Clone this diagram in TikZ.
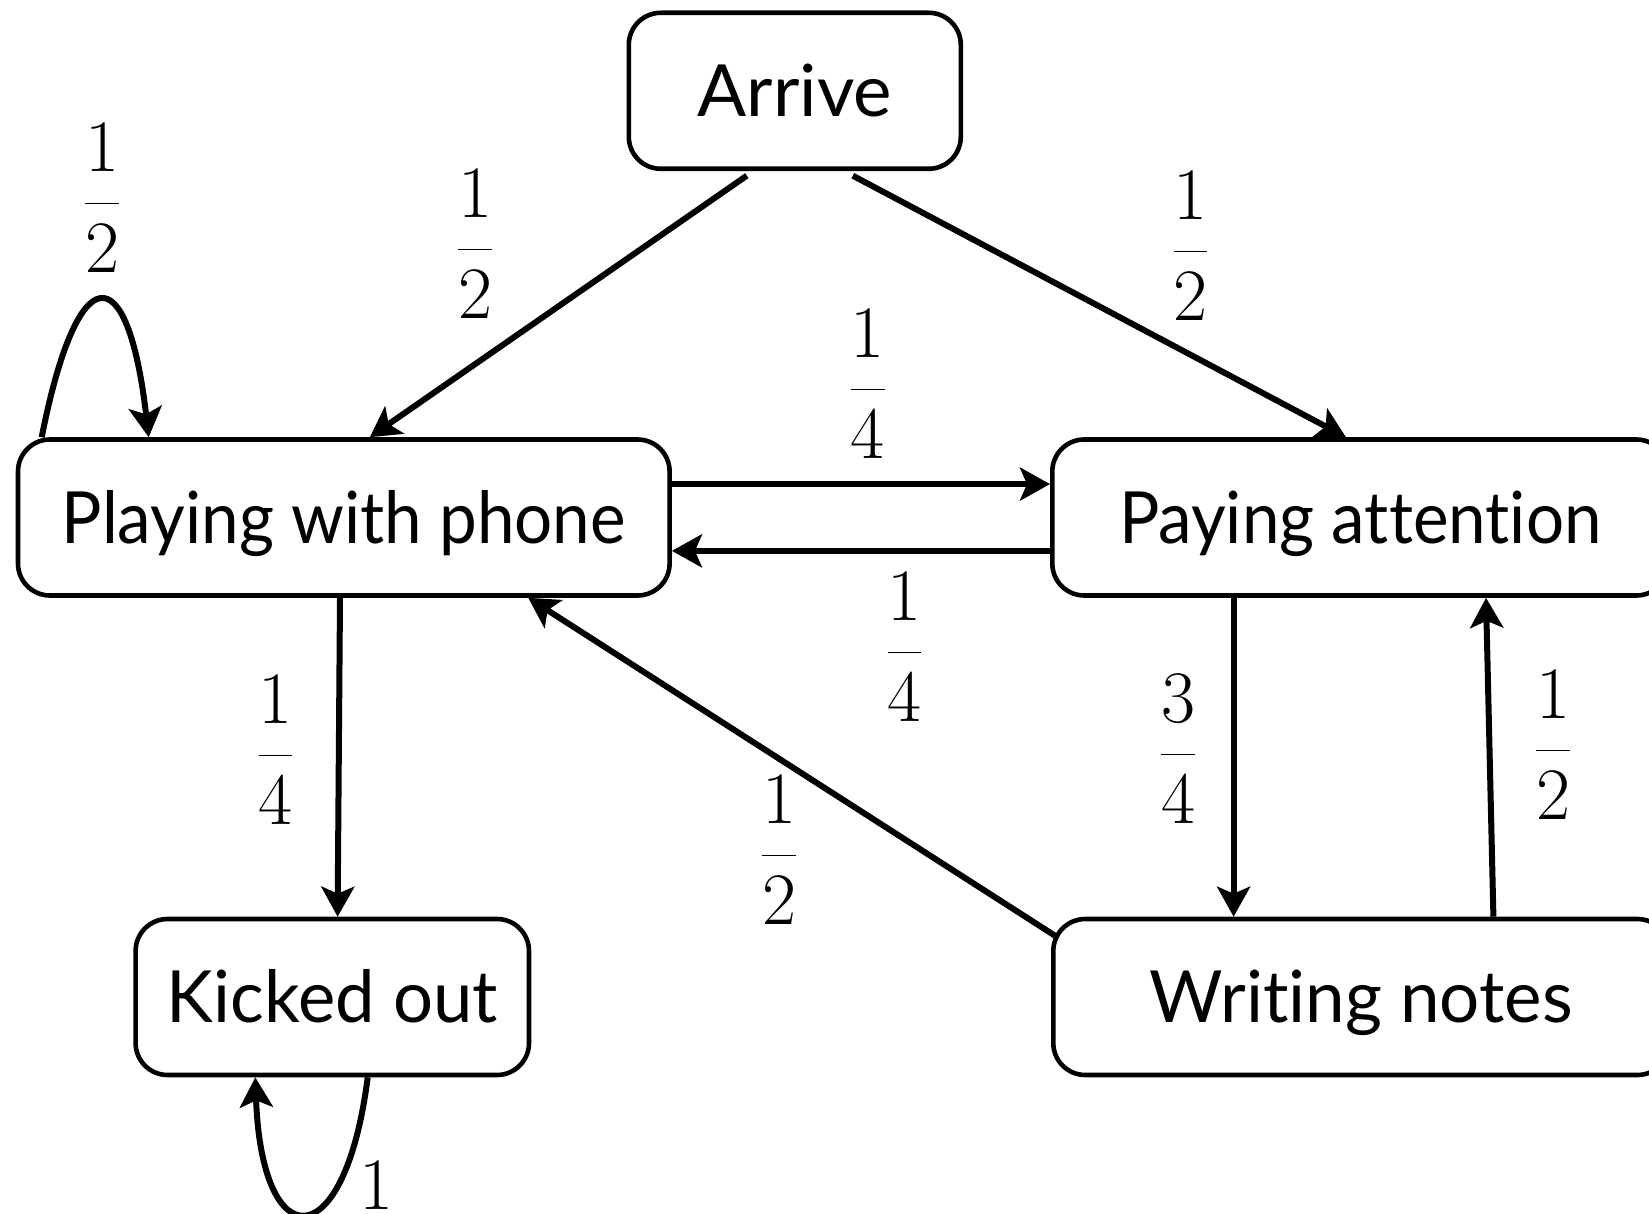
\RequirePackage{fix-cm}
\documentclass[tikz,border=0pt]{standalone}
\usepackage[no-math]{fontspec}
\setmainfont{Lato}[Ligatures=CommonOff]
\usetikzlibrary{arrows.meta,calc}

\begin{document}
\begin{tikzpicture}[x=0.5pt,y=-0.5pt,
  state/.style={draw, line width=2.3pt, rounded corners=16pt,
    minimum height=78pt, inner sep=0pt, text height=25.7pt, text depth=0pt,
    font=\fontsize{36}{43}\selectfont},
  arr/.style={line width=3pt, -{Stealth[length=15pt,width=16.5pt,inset=3.5pt]}},
  prob/.style={inner sep=0pt, font=\fontsize{37}{44}\selectfont}]
\useasboundingbox (0,0) rectangle (1649,1214);

% states
\node[state, minimum width=166pt] (arrive) at (794.8,90.8) {\scalebox{1.01}[1]{Arrive}};
\node[state, minimum width=325.8pt] (play) at (343.8,517.5) {\scalebox{0.935}[1]{Playing with phone}};
\node[state, minimum width=308pt, anchor=west] (pay) at (1050,517.5) {\scalebox{0.935}[1]{Paying attention}};
\node[state, minimum width=196.7pt] (kick) at (332.3,997) {\scalebox{0.98}[1]{Kicked out}};
\node[state, minimum width=308pt, anchor=west] (write) at (1051,997) {\scalebox{0.985}[1]{Writing notes}};

% transitions
\draw[arr] ([xshift=-24pt,yshift=-2.3pt]arrive.south) -- ([xshift=13pt]play.north);
\draw[arr] ([xshift=29pt,yshift=-2.3pt]arrive.south) -- ([xshift=148pt]pay.north west);
\draw[arr] ([yshift=16.7pt]play.east) -- ([yshift=16.7pt]pay.west);
\draw[arr] ([yshift=-16.7pt]pay.west) -- ([yshift=-16.7pt]play.east);
\draw[arr] ([xshift=-1.9pt]play.south) -- ([xshift=2.65pt]kick.north);
\draw[arr] ([xshift=91.8pt]pay.south west) -- ([xshift=91.3pt]write.north west);
\draw[arr] ([xshift=221.2pt]write.north west) -- ([xshift=218pt]pay.south west);
\draw[arr] ([xshift=2pt,yshift=-9.5pt]write.north west) -- ([xshift=92.2pt]play.south);

% self loops
\draw[arr] ([xshift=13pt]play.north west)
  .. controls ($([xshift=13pt]play.north west)+(18pt,91pt)$)
  and ($([xshift=66.5pt]play.north west)+(-10.5pt,91pt)$)
  .. ([xshift=66.5pt]play.north west);
\draw[arr] ([xshift=117.2pt]kick.south west)
  .. controls ($([xshift=117.2pt]kick.south west)+(-11.5pt,-90.5pt)$)
  and ($([xshift=61pt]kick.south west)+(3.2pt,-90.5pt)$)
  .. ([xshift=61pt]kick.south west);

% transition probabilities
\node[prob] (pPP) at (102,198) {$\displaystyle\frac{1}{2}$};
\node[prob] (pAP) at (475,244) {$\displaystyle\frac{1}{2}$};
\node[prob] (pAA) at (1190.5,246) {$\displaystyle\frac{1}{2}$};
\node[prob] (pPA) at (867.7,384) {$\displaystyle\frac{1}{4}$};
\node[prob] (pAPl) at (904.5,647) {$\displaystyle\frac{1}{4}$};
\node[prob] (pPK) at (275.5,750) {$\displaystyle\frac{1}{4}$};
\node[prob] (pAW) at (1178,749) {$\displaystyle\frac{3}{4}$};
\node[prob] (pWA) at (1553,745) {$\displaystyle\frac{1}{2}$};
\node[prob] (pWP) at (779,850) {$\displaystyle\frac{1}{2}$};
\node[prob] (pKK) at (376.5,1186) {$1$};
\end{tikzpicture}
\end{document}
